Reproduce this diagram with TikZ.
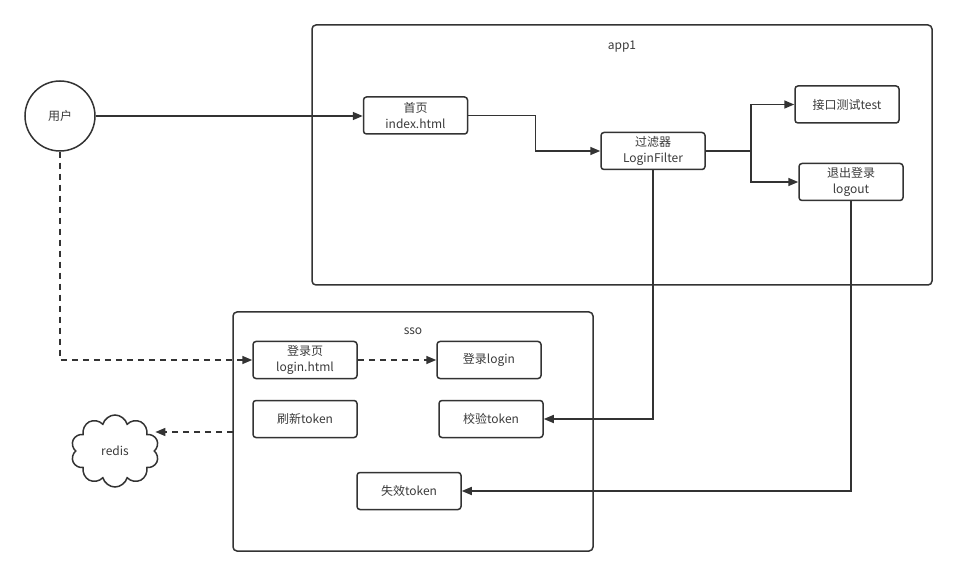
\documentclass[tikz,border=0pt]{standalone}
\usepackage{fontspec}
\setmainfont{Noto Sans CJK SC}
\usetikzlibrary{shapes.geometric, shapes.symbols, arrows.meta, positioning, calc}
\definecolor{linegray}{HTML}{333333}
\definecolor{textgray}{HTML}{3A3A3A}

\begin{document}
\begin{tikzpicture}[
    x=1pt, y=-1pt,
    font=\fontsize{12}{15.5}\selectfont,
    box/.style={rectangle, draw=linegray, line width=1.5pt, rounded corners=3pt, minimum width=104pt, minimum height=37pt, align=center, text=textgray, inner sep=1pt},
    group/.style={rectangle, draw=linegray, line width=1.5pt, rounded corners=4pt},
    label/.style={text=textgray},
    arrow/.style={-{Triangle[length=10pt,width=8pt]}, line width=1.5pt, draw=linegray},
    dasharrow/.style={arrow, dash pattern=on 6pt off 5pt}
]
\useasboundingbox (0,0) rectangle (956,577);

% Containers
\node[group, minimum width=620pt, minimum height=260pt] (app1) at (622,155) {};
\node[group, minimum width=360pt, minimum height=239pt] (sso) at (413,431.5) {};
\node[label] at (622,47) {app1};
\node[label] at (413,331) {sso};

% Nodes
\node[circle, draw=linegray, line width=1.5pt, minimum size=70pt, text=textgray] (user) at (60,116) {用户};
\node[box] (index) at (415.5,115.5) {首页\\index.html};
\node[box] (filter) at (653,151) {过滤器\\LoginFilter};
\node[box] (test) at (847,104.5) {接口测试test};
\node[box] (logout) at (851,182) {退出登录\\logout};
\node[box] (loginpage) at (305,360) {登录页\\login.html};
\node[box] (login) at (489,360) {登录login};
\node[box] (refresh) at (305,419) {刷新token};
\node[box] (verify) at (491,419) {校验token};
\node[box] (expire) at (409,491) {失效token};
\node[cloud, draw=linegray, line width=1.5pt, cloud puffs=10, aspect=1.3, minimum width=88pt, minimum height=72pt, text=textgray] (redis) at (115,451) {redis};
\coordinate (ssoout) at (233,432);

% Arrows
\draw[arrow] (user.east) -- (user.east -| index.west);
\draw[arrow] (index.east) -- ++(67,0) |- (filter.west);
\draw[arrow] (filter.east) -- ++(45,0) |- (test.west);
\draw[arrow] (filter.east) -- ++(45,0) |- (logout.west);
\draw[arrow] (filter.south) |- (verify.east);
\draw[arrow] (logout.south) |- (expire.east);
\draw[dasharrow] (user.south) |- (loginpage.west);
\draw[dasharrow] (loginpage) -- (login);
\draw[dasharrow] (ssoout) -- (ssoout -| redis.east);

\end{tikzpicture}
\end{document}
